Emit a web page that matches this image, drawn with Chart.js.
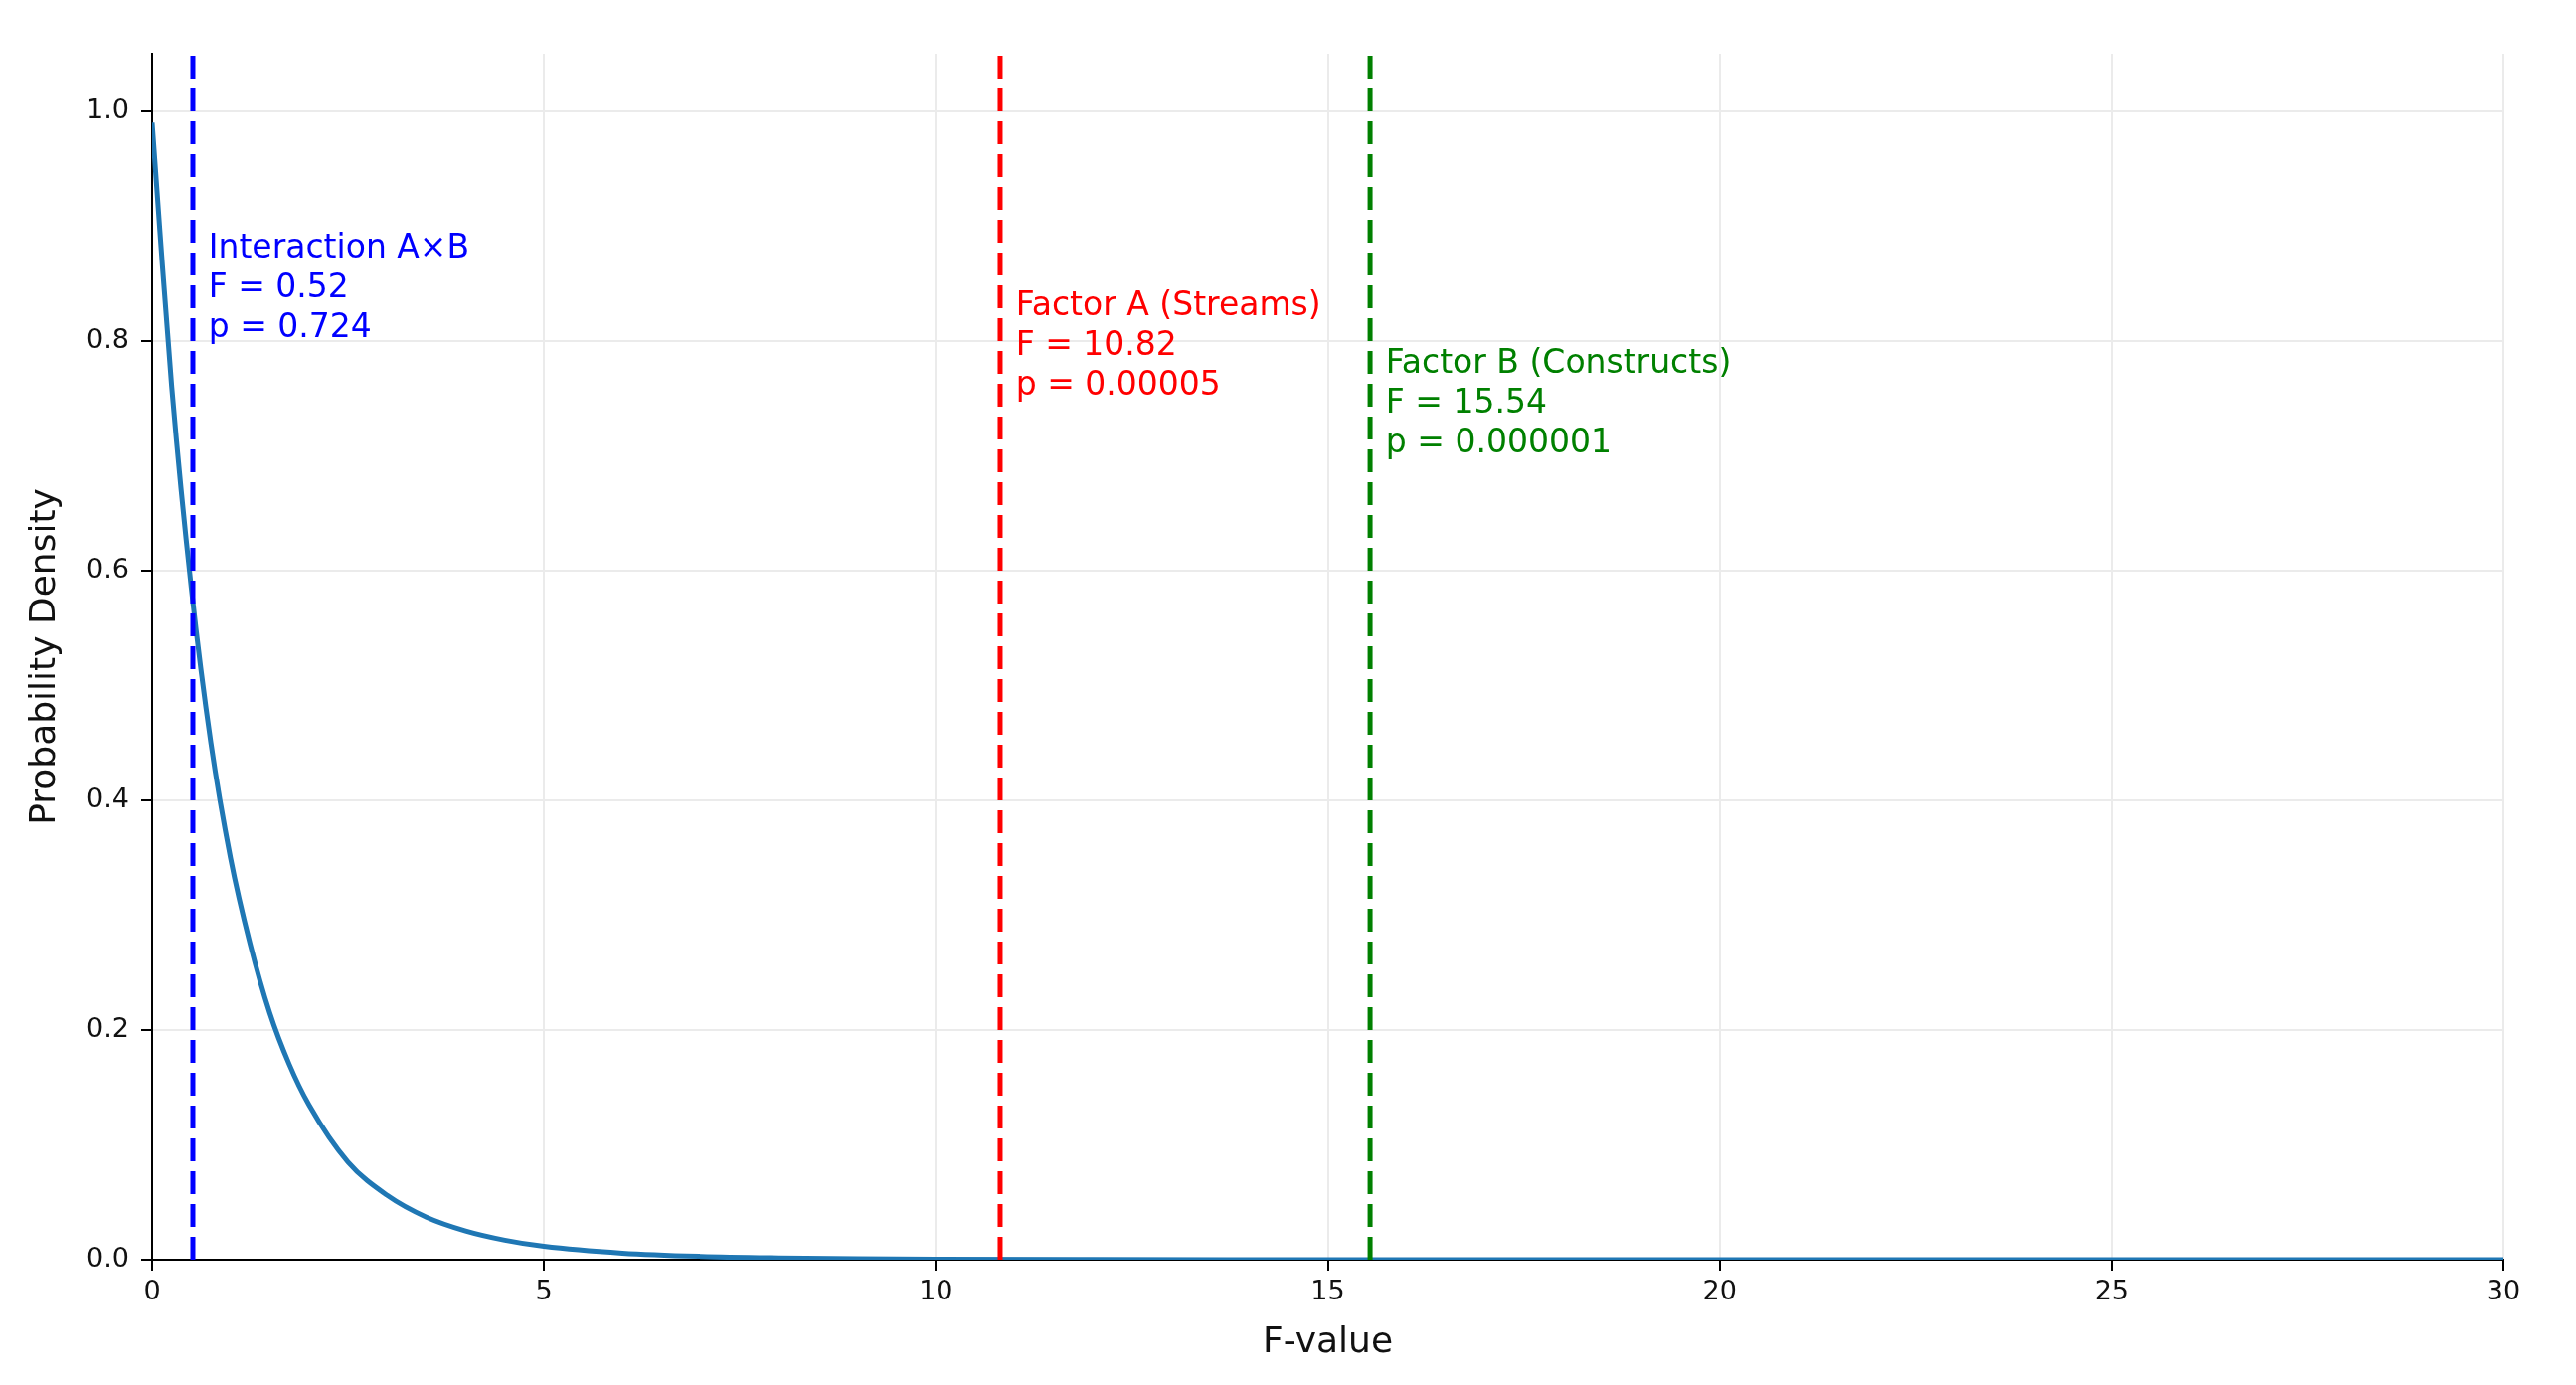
<!DOCTYPE html>
<html>
<head>
<meta charset="utf-8">
<script src="https://cdn.jsdelivr.net/npm/chart.js@4/dist/chart.umd.min.js"></script>
<style>
  html, body { margin: 0; padding: 0; background: #fff; }
  #wrap { width: 2591px; height: 1393px; position: relative; }
</style>
</head>
<body>
<div id="wrap"><canvas id="myChart"></canvas></div>
<script>
// F distribution curve
const curveX = [0, 0.1, 0.25, 0.5, 0.75, 1, 1.25, 1.5, 1.75, 2, 2.5, 3, 3.5, 4, 4.5, 5, 6, 7, 8, 9, 10, 12, 15, 20, 30];
const curveY = [0.99, 0.895, 0.76, 0.585, 0.45, 0.35, 0.275, 0.215, 0.17, 0.135, 0.085, 0.056, 0.037, 0.025, 0.017, 0.0116, 0.0057, 0.0029, 0.0016, 0.0009, 0.0005, 0.0002, 0.00005, 0, 0];

// observed F statistics
const effectNames = ["Interaction A×B", "Factor A (Streams)", "Factor B (Constructs)"];
const fValues = [0.52, 10.82, 15.54];
const pLabels = ["0.724", "0.00005", "0.000001"];
const labelY = [0.845, 0.795, 0.745];
const effectColors = ["#0000ff", "#ff0000", "#008000"];

const xTicks = [0, 5, 10, 15, 20, 25, 30];
const yTicks = [0, 0.2, 0.4, 0.6, 0.8, 1.0];

const FONT = "'DejaVu Sans', sans-serif";

const datasets = [
  {
    data: curveX.map((x, i) => ({ x: x, y: curveY[i] })),
    borderColor: "#1f77b4",
    borderWidth: 5,
    pointRadius: 0,
    cubicInterpolationMode: "monotone",
    fill: false,
    order: 2,
  },
];
fValues.forEach((f, i) => {
  datasets.push({
    data: [{ x: f, y: 0 }, { x: f, y: 1.05 }],
    borderColor: effectColors[i],
    borderWidth: 5,
    borderDash: [23, 10],
    pointRadius: 0,
    fill: false,
    order: 1,
  });
});

const annotationText = {
  id: "annotationText",
  afterDatasetsDraw(chart) {
    const { ctx, scales } = chart;
    ctx.save();
    ctx.font = "33px " + FONT;
    ctx.textAlign = "left";
    ctx.textBaseline = "middle";
    fValues.forEach((f, i) => {
      const lines = [effectNames[i], "F = " + f.toFixed(2), "p = " + pLabels[i]];
      const x = scales.x.getPixelForValue(f + 0.2);
      const yMid = scales.y.getPixelForValue(labelY[i]);
      ctx.fillStyle = effectColors[i];
      lines.forEach((t, j) => ctx.fillText(t, x, yMid + (j - 1) * 40));
    });
    ctx.restore();
  },
};

new Chart(document.getElementById("myChart").getContext("2d"), {
  type: "line",
  data: { datasets: datasets },
  options: {
    responsive: true,
    maintainAspectRatio: false,
    devicePixelRatio: 1,
    animation: false,
    layout: { padding: { left: 0, top: 54, right: 73, bottom: 0 } },
    plugins: { legend: { display: false }, tooltip: { enabled: false } },
    scales: {
      x: {
        type: "linear",
        min: 0,
        max: 30,
        afterBuildTicks: (s) => { s.ticks = xTicks.map((v) => ({ value: v })); },
        afterFit: (s) => { s.height = 126; },
        grid: { color: "#ebebeb", lineWidth: 2, tickLength: 11, tickColor: "#000", tickWidth: 2 },
        border: { color: "#000", width: 2 },
        ticks: { font: { family: FONT, size: 27 }, color: "#111", padding: 6, maxRotation: 0 },
        title: { display: true, text: "F-value", font: { family: FONT, size: 36 }, color: "#111", padding: { top: 0, bottom: 21 } },
      },
      y: {
        type: "linear",
        min: 0,
        max: 1.05,
        afterBuildTicks: (s) => { s.ticks = yTicks.map((v) => ({ value: v })); },
        afterFit: (s) => { s.width = 153; },
        grid: { color: "#ebebeb", lineWidth: 2, tickLength: 11, tickColor: "#000", tickWidth: 2 },
        border: { color: "#000", width: 2 },
        ticks: { font: { family: FONT, size: 27 }, color: "#111", padding: 12, callback: (v) => v.toFixed(1) },
        title: { display: true, text: "Probability Density", font: { family: FONT, size: 36 }, color: "#111", padding: { top: 24, bottom: 0 } },
      },
    },
  },
  plugins: [annotationText],
});
</script>
</body>
</html>
